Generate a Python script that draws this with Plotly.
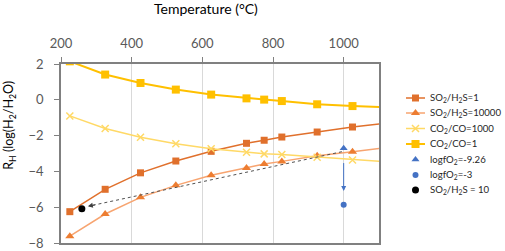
import plotly.graph_objects as go

# Temperatures (°C)
temps = [225, 325, 425, 525, 625, 725, 775, 825, 925, 1025, 1125]

so2_h2s_1 = [-6.25, -5.0, -4.08, -3.42, -2.88, -2.43, -2.26, -2.08, -1.80, -1.52, -1.30]
so2_h2s_10000 = [-7.62, -6.38, -5.45, -4.78, -4.22, -3.81, -3.59, -3.44, -3.12, -2.90, -2.67]
co2_co_1000 = [-0.90, -1.60, -2.09, -2.45, -2.73, -2.93, -3.02, -3.06, -3.21, -3.36, -3.47]
co2_co_1 = [2.15, 1.41, 0.94, 0.57, 0.29, 0.08, 0.01, -0.07, -0.25, -0.35, -0.42]

fo2_926_T = [1000]
fo2_926_v = [-2.7]
fo2_3_T = [1000]
fo2_3_v = [-5.86]
so2_h2s_10_T = [259]
so2_h2s_10_v = [-6.08]

# arrows (data coordinates)
blue_arrow_T = 1000
blue_arrow_from = -3.45
blue_arrow_to = -5.1
dot_arrow_start = (995, -2.9)
dot_arrow_tip = (276, -5.95)

x_ticks = [200, 400, 600, 800, 1000]
y_ticks = [2, 0, -2, -4, -6, -8]

FONT = "Lato"
TICK_FONT = dict(family=FONT, size=13, color="#595959")

series = [
    dict(name="SO<sub>2</sub>/H<sub>2</sub>S=1", x=temps, y=so2_h2s_1, mode="lines+markers",
         line=dict(color="#E0702C", width=1.5),
         marker=dict(symbol="square", size=7, color="#E0702C")),
    dict(name="SO<sub>2</sub>/H<sub>2</sub>S=10000", x=temps, y=so2_h2s_10000, mode="lines+markers",
         line=dict(color="#F7A470", width=1.5),
         marker=dict(symbol="triangle-up", size=8, color="#ED7D31")),
    dict(name="CO<sub>2</sub>/CO=1000", x=temps, y=co2_co_1000, mode="lines+markers",
         line=dict(color="#FFD966", width=1.5),
         marker=dict(symbol="x-thin", size=7, color="#FFD966",
                     line=dict(color="#FFD966", width=1.5))),
    dict(name="CO<sub>2</sub>/CO=1", x=temps, y=co2_co_1, mode="lines+markers",
         line=dict(color="#FFC000", width=2),
         marker=dict(symbol="square", size=8, color="#FFC000")),
    dict(name="logfO<sub>2</sub>=-9.26", x=fo2_926_T, y=fo2_926_v, mode="markers",
         marker=dict(symbol="triangle-up", size=7, color="#4472C4")),
    dict(name="logfO<sub>2</sub>=-3", x=fo2_3_T, y=fo2_3_v, mode="markers",
         marker=dict(symbol="circle", size=6, color="#4472C4")),
    dict(name="SO<sub>2</sub>/H<sub>2</sub>S = 10", x=so2_h2s_10_T, y=so2_h2s_10_v, mode="markers",
         marker=dict(symbol="circle", size=7, color="#000000")),
]

fig = go.Figure()
for s in series:
    fig.add_trace(go.Scatter(showlegend=False, xaxis="x", yaxis="y", **s))

# Legend drawn in a side panel (pixel-like coordinates)
legend_rows = [98, 113, 128.5, 144, 159.5, 175, 190]
for s, row in zip(series, legend_rows):
    if "lines" in s["mode"]:
        fig.add_trace(go.Scatter(x=[406, 425], y=[row, row], mode="lines", line=s["line"],
                                 xaxis="x2", yaxis="y2", showlegend=False, hoverinfo="skip"))
    mk = dict(s["marker"])
    fig.add_trace(go.Scatter(x=[415.5], y=[row], mode="markers", marker=mk,
                             xaxis="x2", yaxis="y2", showlegend=False, hoverinfo="skip"))
    fig.add_annotation(text=s["name"], x=428, y=row, xref="x2", yref="y2",
                       xanchor="left", yanchor="middle", showarrow=False,
                       font=dict(family=FONT, size=9.6, color="#262626"))

# dotted arrow
fig.add_shape(type="line", xref="x", yref="y",
              x0=dot_arrow_start[0], y0=dot_arrow_start[1],
              x1=dot_arrow_tip[0] + 10, y1=dot_arrow_tip[1] + 0.04,
              line=dict(color="#505050", width=1, dash="dot"))
fig.add_annotation(x=dot_arrow_tip[0], y=dot_arrow_tip[1], ax=dot_arrow_tip[0] + 25,
                   ay=dot_arrow_tip[1] + 0.1, axref="x", ayref="y", xref="x", yref="y",
                   text="", showarrow=True, arrowhead=2, arrowsize=1, arrowwidth=1,
                   arrowcolor="#404040")
# blue arrow
fig.add_annotation(x=blue_arrow_T, y=blue_arrow_to, ax=blue_arrow_T, ay=blue_arrow_from,
                   axref="x", ayref="y", xref="x", yref="y", text="", showarrow=True,
                   arrowhead=2, arrowsize=1, arrowwidth=1, arrowcolor="#4472C4")

# titles
fig.add_annotation(text="Temperature (°C)", xref="paper", yref="paper", x=0.326, y=1.31,
                   xanchor="center", yanchor="middle", showarrow=False,
                   font=dict(family=FONT, size=14, color="#000000"))
fig.add_annotation(text="R<sub>H</sub> (log(H<sub>2</sub>/H<sub>2</sub>O)", xref="paper",
                   yref="paper", x=-0.115, y=0.66, xanchor="center", yanchor="middle",
                   textangle=-90, showarrow=False,
                   font=dict(family=FONT, size=12.5, color="#000000"))

main_frac = 318 / 444
fig.update_layout(
    width=505, height=251, margin=dict(l=61, r=0, t=64, b=8, autoexpand=False),
    plot_bgcolor="white", paper_bgcolor="white", showlegend=False,
    xaxis=dict(domain=[0, main_frac], range=[200, 1100], side="top", tickvals=x_ticks,
               tickfont=TICK_FONT, showgrid=True, gridcolor="#D9D9D9", gridwidth=1,
               showline=True, linecolor="#808080", linewidth=1.5, mirror=True,
               ticks="outside", ticklen=5, tickcolor="#808080", zeroline=False,
               ticklabelstandoff=4),
    yaxis=dict(range=[-8, 2], tickvals=y_ticks, tickfont=TICK_FONT, showgrid=False,
               showline=True, linecolor="#808080", linewidth=1.5, mirror=True,
               ticks="outside", ticklen=5, tickcolor="#808080", zeroline=False,
               ticklabelstandoff=8),
    xaxis2=dict(domain=[main_frac, 1], range=[379, 505], visible=False, fixedrange=True),
    yaxis2=dict(domain=[0, 1], range=[243, 64], visible=False, fixedrange=True,
                anchor="x2"),
)

fig.write_html("out.html", config={"displayModeBar": False},
               post_script="document.body.style.margin='0';document.body.style.overflow='hidden';")
